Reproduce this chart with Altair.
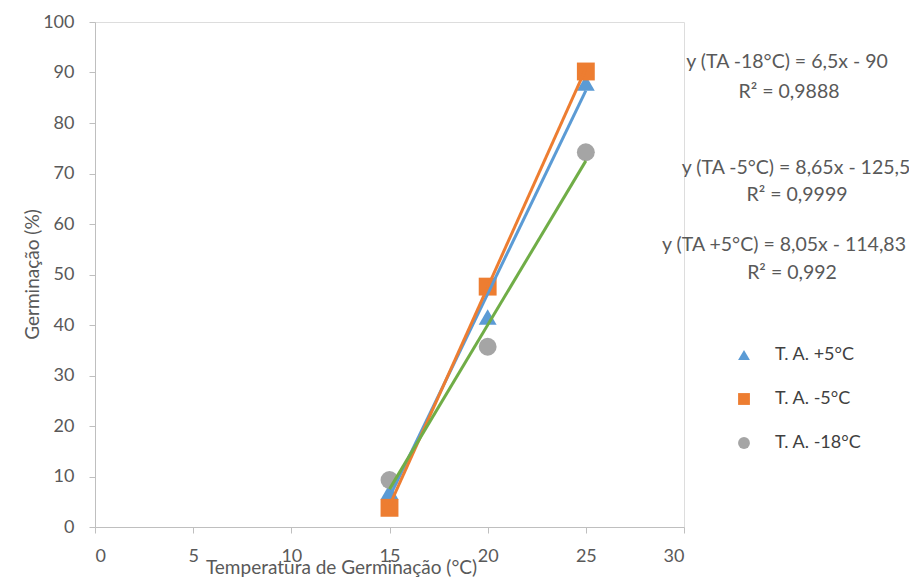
import altair as alt
import pandas as pd

# ---- data ----
series = ["T. A. +5°C", "T. A. -5°C", "T. A. -18°C"]
temps = [15, 20, 25]
germ_p5 = [7.0, 41.6, 87.9]
germ_m5 = [3.8, 47.6, 90.2]
germ_m18 = [9.3, 35.7, 74.2]

# trendline equations shown in the chart (slope, intercept) per series
slopes = [8.05, 8.65, 6.5]
intercepts = [-114.83, -125.5, -90.0]
line_colors = ["#5B9BD5", "#ED7D31", "#70AD47"]

eq_texts = [
    "y (TA -18°C) = 6,5x - 90", "R² = 0,9888",
    "y (TA -5°C) = 8,65x - 125,5", "R² = 0,9999",
    "y (TA +5°C) = 8,05x - 114,83", "R² = 0,992",
]
x_ticks = [0, 5, 10, 15, 20, 25, 30]
y_ticks = [0, 10, 20, 30, 40, 50, 60, 70, 80, 90, 100]

FONT = "Lato"
GREY = "#595959"

# annotation placement (pixels, relative to plot origin)
ann_px = [692, 694, 701, 702, 689, 697]
ann_py = [40, 70, 146, 173, 223, 251]

pts = pd.DataFrame(
    [(s, t, v) for s, vals in zip(series, [germ_p5, germ_m5, germ_m18]) for t, v in zip(temps, vals)],
    columns=["series", "temp", "germ"],
)
lines = pd.DataFrame(
    [(s, t, m * t + b, c) for s, m, b, c in zip(series, slopes, intercepts, line_colors) for t in (temps[0], temps[-1])],
    columns=["series", "temp", "germ", "lc"],
)

xscale = alt.Scale(domain=[0, 30], nice=False)
yscale = alt.Scale(domain=[0, 100], nice=False)

x_axis = alt.Axis(
    values=x_ticks, grid=False, tickSize=6, labelPadding=14, labelFontSize=18,
    labelColor=GREY, domainColor="#BFBFBF", tickColor="#BFBFBF",
    title="Temperatura de Germinação (°C)", titleFontSize=19, titleColor=GREY,
    titleFontWeight="normal", titleX=246, titleY=40, titleBaseline="middle",
)
y_axis = alt.Axis(
    values=y_ticks, grid=False, tickSize=6, labelPadding=15, labelFontSize=18,
    labelColor=GREY, domainColor="#BFBFBF", tickColor="#BFBFBF",
    title="Germinação (%)", titleFontSize=19, titleColor=GREY,
    titleFontWeight="normal", titleX=-63, titleY=252, titleAngle=270,
    titleAlign="center", titleBaseline="middle",
)

points = alt.Chart(pts).mark_point(filled=True, opacity=1, size=320).encode(
    x=alt.X("temp:Q", scale=xscale, axis=x_axis),
    y=alt.Y("germ:Q", scale=yscale, axis=y_axis),
    color=alt.Color("series:N", scale=alt.Scale(domain=series, range=["#5B9BD5", "#ED7D31", "#A5A5A5"]),
                    legend=alt.Legend(title=None, orient="none", legendX=640, legendY=324,
                                      symbolSize=140, labelFontSize=18, labelColor="#404040",
                                      labelFont=FONT, rowPadding=26, labelOffset=22, padding=0,
                                      symbolStrokeWidth=0)),
    shape=alt.Shape("series:N", scale=alt.Scale(domain=series, range=["triangle-up", "square", "circle"])),
    order=alt.Order("idx:Q"),
).transform_calculate(idx="indexof(" + str(series) + ", datum.series)")

trend = alt.Chart(lines).mark_line(strokeWidth=3).encode(
    x=alt.X("temp:Q", scale=xscale),
    y=alt.Y("germ:Q", scale=yscale),
    detail="series:N",
    stroke=alt.Stroke("lc:N", scale=None),
)

texts = [
    alt.Chart(pts).mark_text(fontSize=19.5, color=GREY, font=FONT, align="center", baseline="middle").encode(
        x=alt.value(px), y=alt.value(py), text=alt.value(t)
    ).transform_filter("datum.temp == 15 && datum.series == '" + series[0] + "'")
    for t, px, py in zip(eq_texts, ann_px, ann_py)
]

chart = alt.layer(points, trend, *texts).properties(
    width=589, height=505,
    autosize=alt.AutoSizeParams(type="none"),
    padding={"left": 87, "top": 14, "right": 225, "bottom": 50},
).configure_view(stroke=None).configure(font=FONT)

chart.save("out.html", embed_options={"renderer": "svg", "actions": False})
